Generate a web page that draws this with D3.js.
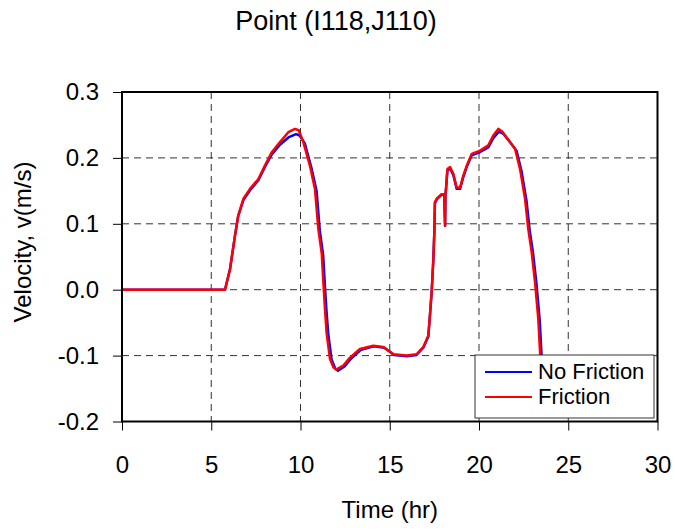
<!DOCTYPE html>
<html>
<head>
<meta charset="utf-8">
<script src="https://cdn.jsdelivr.net/npm/d3@7"></script>
<style>
  body { margin: 0; background: #fff; }
  text { font-family: "Liberation Sans", Arial, sans-serif; }
</style>
</head>
<body>
<div id="chart"></div>
<script>
// Time (hr) and velocity (m/s)
const frictionTime = [0, 5.77, 6.05, 6.33, 6.51, 6.8, 7.17, 7.64, 8.0, 8.38, 8.85, 9.32, 9.69, 9.9, 10.16, 10.53, 10.81, 11.0, 11.19, 11.27, 11.37, 11.46, 11.65, 11.85, 12.02, 12.4, 12.77, 13.33, 14.08, 14.64, 15.2, 15.95, 16.5, 16.88, 17.16, 17.25, 17.35, 17.44, 17.5, 17.53, 17.63, 17.9, 18.05, 18.1, 18.12, 18.15, 18.23, 18.38, 18.56, 18.75, 18.94, 19.12, 19.31, 19.59, 20.06, 20.52, 20.8, 21.08, 21.3, 21.55, 22.02, 22.3, 22.58, 22.76, 22.95, 23.14, 23.32, 23.42, 23.5];
const frictionVel = [0, 0, 0.031, 0.082, 0.112, 0.138, 0.153, 0.168, 0.188, 0.208, 0.224, 0.239, 0.244, 0.242, 0.224, 0.188, 0.153, 0.092, 0.055, 0.016, -0.029, -0.065, -0.105, -0.118, -0.121, -0.115, -0.103, -0.090, -0.085, -0.087, -0.098, -0.100, -0.098, -0.087, -0.070, -0.039, -0.002, 0.045, 0.090, 0.133, 0.138, 0.145, 0.145, 0.097, 0.145, 0.153, 0.183, 0.186, 0.176, 0.155, 0.155, 0.173, 0.188, 0.206, 0.211, 0.219, 0.234, 0.244, 0.240, 0.231, 0.214, 0.183, 0.138, 0.092, 0.057, 0.011, -0.044, -0.095, -0.130];

const noFrictionTime = [0, 5.77, 6.05, 6.33, 6.51, 6.8, 7.17, 7.64, 8.0, 8.38, 8.85, 9.32, 9.75, 9.95, 10.24, 10.6, 10.9, 11.08, 11.27, 11.35, 11.45, 11.55, 11.74, 11.95, 12.1, 12.48, 12.85, 13.4, 14.1, 14.7, 15.25, 15.95, 16.5, 16.88, 17.16, 17.25, 17.35, 17.44, 17.5, 17.53, 17.63, 17.9, 18.05, 18.1, 18.12, 18.15, 18.23, 18.38, 18.56, 18.75, 18.94, 19.12, 19.31, 19.59, 20.06, 20.52, 20.8, 21.12, 21.35, 21.62, 22.1, 22.38, 22.66, 22.84, 23.03, 23.22, 23.4, 23.5, 23.58];
const noFrictionVel = [0, 0, 0.031, 0.082, 0.112, 0.136, 0.151, 0.166, 0.186, 0.205, 0.220, 0.231, 0.236, 0.234, 0.222, 0.186, 0.150, 0.090, 0.052, 0.014, -0.030, -0.066, -0.106, -0.120, -0.123, -0.116, -0.104, -0.091, -0.086, -0.088, -0.099, -0.101, -0.099, -0.088, -0.071, -0.040, -0.003, 0.044, 0.088, 0.131, 0.137, 0.144, 0.144, 0.097, 0.144, 0.151, 0.181, 0.184, 0.174, 0.153, 0.153, 0.171, 0.186, 0.204, 0.209, 0.216, 0.230, 0.240, 0.237, 0.228, 0.211, 0.180, 0.135, 0.090, 0.055, 0.009, -0.046, -0.097, -0.130];

const xTicks = [0, 5, 10, 15, 20, 25, 30];
const yTicks = [-0.2, -0.1, 0.0, 0.1, 0.2, 0.3];
const seriesNames = ["No Friction", "Friction"];
const seriesColors = ["#0000ff", "#ff0000"];

const width = 675, height = 531;
const margin = {top: 92, right: 17.5, bottom: 109.5, left: 122};
const innerW = width - margin.left - margin.right;
const innerH = height - margin.top - margin.bottom;

const svg = d3.select("#chart").append("svg")
  .attr("width", width)
  .attr("height", height);

const g = svg.append("g")
  .attr("transform", "translate(" + margin.left + "," + margin.top + ")");

const x = d3.scaleLinear().domain([0, 30]).range([0, innerW]);
const y = d3.scaleLinear().domain([-0.2, 0.3]).range([innerH, 0]);

// grid
g.append("g").selectAll("line")
  .data(xTicks.slice(1, -1))
  .enter().append("line")
  .attr("x1", d => x(d)).attr("x2", d => x(d))
  .attr("y1", 0).attr("y2", innerH)
  .attr("stroke", "#333").attr("stroke-width", 1)
  .attr("stroke-dasharray", "7,5");

g.append("g").selectAll("line")
  .data(yTicks.slice(1, -1))
  .enter().append("line")
  .attr("x1", 0).attr("x2", innerW)
  .attr("y1", d => y(d)).attr("y2", d => y(d))
  .attr("stroke", "#333").attr("stroke-width", 1)
  .attr("stroke-dasharray", "7,5");

// axes
const xAxis = g.append("g")
  .attr("transform", "translate(0," + innerH + ")")
  .call(d3.axisBottom(x).tickValues(xTicks).tickSize(9).tickPadding(25).tickFormat(d3.format("d")));
const yAxis = g.append("g")
  .call(d3.axisLeft(y).tickValues(yTicks).tickSize(9).tickPadding(14).tickFormat(d => d.toFixed(1)));

[xAxis, yAxis].forEach(a => {
  a.select(".domain").remove();
  a.selectAll(".tick line").attr("stroke", "#000").attr("stroke-width", 1);
  a.selectAll(".tick text")
    .attr("fill", "#000")
    .style("font-family", "'Liberation Sans', Arial, sans-serif")
    .style("font-size", "24px");
});

// lines
const line = d3.line()
  .x(d => x(d[0]))
  .y(d => y(d[1]));

const seriesData = [
  d3.zip(noFrictionTime, noFrictionVel),
  d3.zip(frictionTime, frictionVel)
];

g.append("defs").append("clipPath").attr("id", "clip")
  .append("rect").attr("width", innerW).attr("height", innerH);

g.append("g").attr("clip-path", "url(#clip)")
  .selectAll("path")
  .data(seriesData)
  .enter().append("path")
  .attr("d", line)
  .attr("fill", "none")
  .attr("stroke", (d, i) => seriesColors[i])
  .attr("stroke-width", 2.5)
  .attr("stroke-linejoin", "round");

// plot border
g.append("rect")
  .attr("width", innerW).attr("height", innerH)
  .attr("fill", "none").attr("stroke", "#000").attr("stroke-width", 2);

// legend
const legend = g.append("g").attr("transform", "translate(" + (475 - margin.left) + "," + (355 - margin.top) + ")");
legend.append("rect")
  .attr("width", 179).attr("height", 63)
  .attr("fill", "#fff").attr("stroke", "#333").attr("stroke-width", 1);
seriesNames.forEach((name, i) => {
  legend.append("line")
    .attr("x1", 10).attr("x2", 57)
    .attr("y1", 17 + i * 25).attr("y2", 17 + i * 25)
    .attr("stroke", seriesColors[i]).attr("stroke-width", 2);
  legend.append("text")
    .attr("x", 63).attr("y", 24 + i * 25)
    .style("font-size", "22px")
    .text(name);
});

// titles
svg.append("text")
  .attr("x", 336).attr("y", 30)
  .attr("text-anchor", "middle")
  .style("font-size", "27px")
  .text("Point (I118,J110)");

svg.append("text")
  .attr("x", margin.left + innerW / 2).attr("y", 518)
  .attr("text-anchor", "middle")
  .style("font-size", "24px")
  .text("Time (hr)");

svg.append("text")
  .attr("transform", "translate(31,242) rotate(-90)")
  .attr("text-anchor", "middle")
  .style("font-size", "24px")
  .text("Velocity, v(m/s)");
</script>
</body>
</html>
